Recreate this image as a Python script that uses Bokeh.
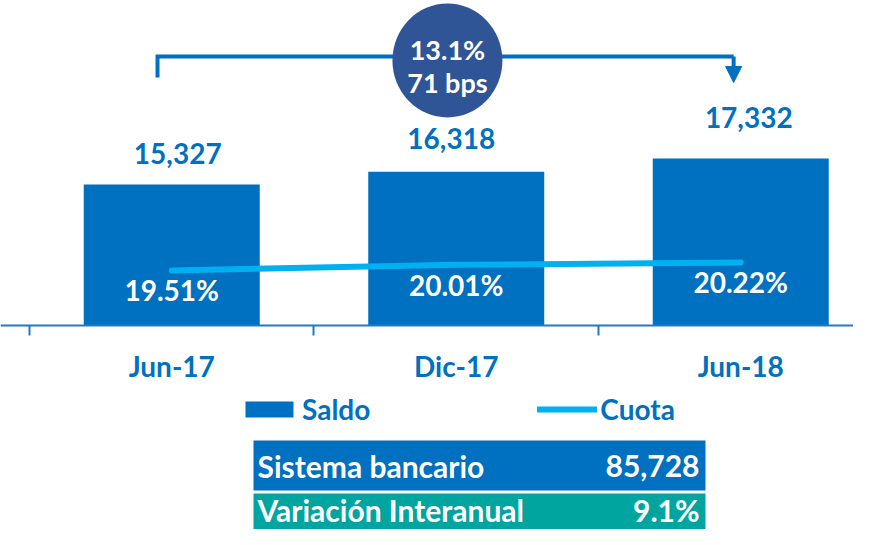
from bokeh.plotting import figure
from bokeh.models import (Range1d, LinearAxis, FixedTicker, ColumnDataSource,
                          Arrow, NormalHead, Legend, LegendItem)
from bokeh.embed import file_html
from bokeh.resources import INLINE
from bokeh.core.properties import value

# ---------------- data ----------------
categories = ["Jun-17", "Dic-17", "Jun-18"]
saldo = [15327, 16318, 17332]
cuota = [19.51, 20.01, 20.22]
saldo_labels = ["15,327", "16,318", "17,332"]
cuota_labels = ["19.51%", "20.01%", "20.22%"]
growth_label = "13.1%"
bps_label = "71 bps"
table_names = ["Sistema bancario", "Variación Interanual"]
table_values = ["85,728", "9.1%"]

# ---------------- style ----------------
FONT = value("Lato")
BLUE = "#0070C0"
LIGHT = "#00B0F0"
NAVY = "#2F5597"
TEAL = "#00A5A0"
AXIS = "#1F7BC8"

W, H = 853, 529
SALDO_MIN = 4456

xc = [i + 0.5 for i in range(len(categories))]

src = ColumnDataSource(dict(x=xc, saldo=saldo, cuota=cuota,
                            slab=saldo_labels, clab=cuota_labels,
                            dx=[6, -5, 8], dy=[-31, -33, -41]))

p = figure(width=W, height=H,
           x_range=Range1d(-0.1019, 2.8963), y_range=Range1d(-11273, 29514),
           output_backend="svg", toolbar_location=None,
           x_axis_location=None, y_axis_location=None, min_border=0)
p.outline_line_color = None
p.grid.visible = False
p.background_fill_color = "white"
p.border_fill_color = "white"

p.extra_y_ranges = {"cuota": Range1d(-3.41, 43.40), "px": Range1d(H, 0)}
p.extra_x_ranges = {"px": Range1d(0, W)}

# category axis at the bar baseline: labels at centers, ticks between categories
ax = LinearAxis(fixed_location=SALDO_MIN,
                ticker=FixedTicker(ticks=xc, minor_ticks=[0, 1, 2, 3]),
                major_label_overrides={x: c for x, c in zip(xc, categories)})
ax.major_tick_line_color = None
ax.major_tick_out = 0
ax.major_tick_in = 0
ax.minor_tick_out = 10
ax.minor_tick_in = 0
ax.minor_tick_line_color = AXIS
ax.minor_tick_line_width = 2
ax.axis_line_color = AXIS
ax.axis_line_width = 2
ax.major_label_text_font = "Lato"
ax.major_label_text_font_style = "bold"
ax.major_label_text_font_size = "28px"
ax.major_label_text_color = BLUE
ax.major_label_standoff = 14
p.add_layout(ax, "below")

# bars
bars = p.vbar(x="x", top="saldo", bottom=SALDO_MIN, width=176 / 284.5, source=src,
              fill_color=BLUE, line_color=None)
# cuota line
ln = p.line(x="x", y="cuota", source=src, y_range_name="cuota",
            line_color=LIGHT, line_width=6, line_cap="round")

# bar value labels
p.text(x="x", y="saldo", text="slab", source=src, x_offset="dx", y_offset="dy",
       text_align="center", text_baseline="middle", text_font=FONT,
       text_font_style="bold", text_font_size="28px", text_color=BLUE)
# cuota labels
p.text(x="x", y="cuota", text="clab", source=src, y_range_name="cuota",
       y_offset=20, text_align="center", text_baseline="middle", text_font=FONT,
       text_font_style="bold", text_font_size="28px", text_color="white")

# bracket with arrow and growth bubble
bx0, bx1 = 0.45, 2.475
by_top, by_low, by_tip = 25196, 23577, 23192
p.line(x=[bx0, bx0, bx1], y=[by_low, by_top, by_top], line_color=BLUE,
       line_width=4, line_join="miter")
p.add_layout(Arrow(end=NormalHead(size=16, fill_color=BLUE, line_color=BLUE),
                   x_start=bx1, y_start=by_top, x_end=bx1, y_end=by_tip,
                   line_color=BLUE, line_width=4))
cx, cy = 1.469, 24888
p.ellipse(x=[cx], y=[cy], width=110, height=114, width_units="screen",
          height_units="screen", fill_color=NAVY, line_color=None)
p.text(x=[cx, cx], y=[cy, cy], text=[growth_label, bps_label],
       y_offset=[-11, 22], text_align="center", text_baseline="middle",
       text_font=FONT, text_font_style="bold", text_font_size="27px",
       text_color="white")

# legend
legend = Legend(items=[LegendItem(label="Saldo", renderers=[bars]),
                       LegendItem(label="Cuota", renderers=[ln])],
                orientation="horizontal", location=(239, 103),
                glyph_width=60, glyph_height=20, label_standoff=3,
                spacing=167, padding=0, margin=0,
                border_line_color=None, background_fill_alpha=0,
                label_text_font="Lato", label_text_font_style="bold",
                label_text_font_size="28px", label_text_color=BLUE)
p.add_layout(legend, "center")

# summary table (pixel layout range)
row_top = [440, 493]
row_bot = [490, 529]
row_col = [BLUE, TEAL]
row_mid = [465, 509]
p.quad(left=253, right=705, top=row_top, bottom=row_bot, fill_color=row_col,
       line_color=None, x_range_name="px", y_range_name="px")
p.text(x=257, y=row_mid, text=table_names, text_align="left",
       text_baseline="middle", text_font=FONT, text_font_style="bold",
       text_font_size="30px", text_color="white",
       x_range_name="px", y_range_name="px")
p.text(x=699, y=row_mid, text=table_values, text_align="right",
       text_baseline="middle", text_font=FONT, text_font_style="bold",
       text_font_size="30px", text_color="white",
       x_range_name="px", y_range_name="px")

open("out.html", "w").write(file_html(p, INLINE))
